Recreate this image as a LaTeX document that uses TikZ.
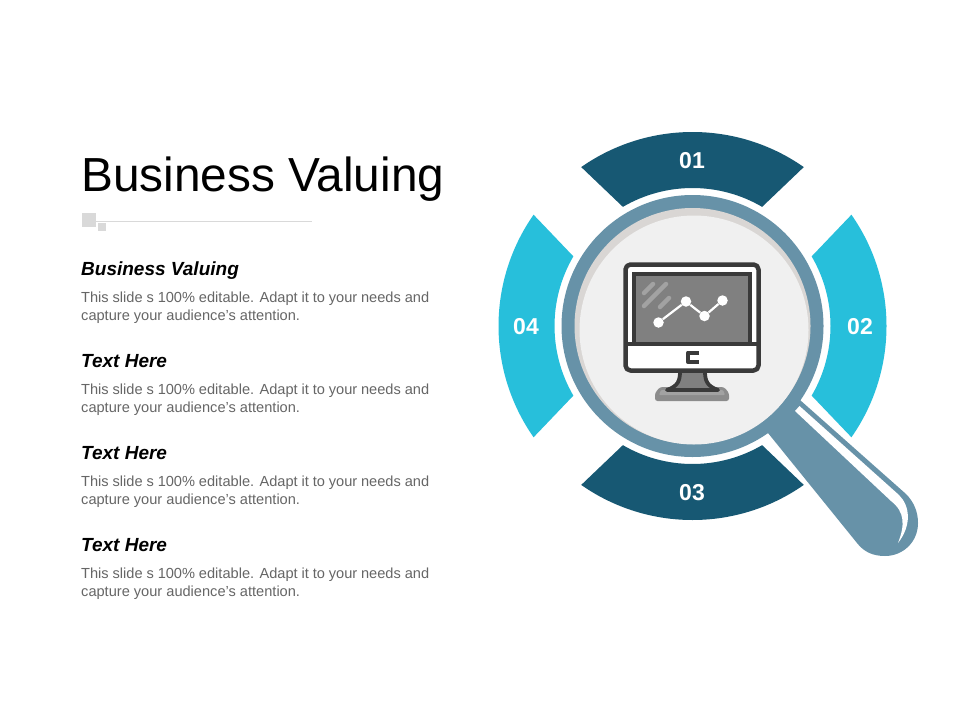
\documentclass[tikz,border=0pt]{standalone}
\usepackage{fontspec}
\setmainfont{Liberation Sans}
\definecolor{dteal}{HTML}{175873}
\definecolor{cyanseg}{HTML}{27BFDB}
\definecolor{ringc}{HTML}{6792A8}
\definecolor{cresc}{HTML}{D9D6D4}
\definecolor{lens}{HTML}{F0F0F0}
\definecolor{mondark}{HTML}{3A3A3A}
\definecolor{mongray}{HTML}{808080}
\definecolor{glare}{HTML}{A2A2A2}
\definecolor{basegray}{HTML}{8C8C8C}
\definecolor{bodytxt}{HTML}{666666}
\definecolor{deco}{HTML}{D9D9D9}
\newcommand{\bodylines}{\makebox[348pt][s]{This slide s 100\% editable. Adapt it to your needs and}}
\newcommand{\seg}[2]{\fill[#1,rotate=#2] (55:194) arc[start angle=55,end angle=125,radius=194pt] -- (120.3:138) arc[start angle=120.3,end angle=59.7,radius=138pt] -- cycle;}
\tikzset{
  titletxt/.style={anchor=base west,inner sep=0pt,font=\fontsize{47.8}{50}\selectfont,text=black},
  headtxt/.style={anchor=base west,inner sep=0pt,font=\fontsize{19}{21}\selectfont\bfseries\itshape,text=black},
  bodytext/.style={anchor=base west,inner sep=0pt,font=\fontsize{14.6}{18}\selectfont,text=bodytxt},
  numtxt/.style={anchor=center,inner sep=0pt,font=\fontsize{23}{25}\selectfont\bfseries,text=white},
  monline/.style={draw=mondark,line width=4.5pt,line join=round},
  glareline/.style={draw=glare,line width=4.5pt,line cap=round},
  dotc/.style={circle,fill=white,inner sep=0pt,minimum size=10.5pt}
}
\begin{document}
\begin{tikzpicture}[x=1pt,y=1pt,yscale=-1]
\useasboundingbox (0,0) rectangle (960,720);
\fill[white] (0,0) rectangle (960,720);
% left column
\node[titletxt] (title) at (81,191) {Business Valuing};
\fill[deco] (82,213) rectangle (96,227);
\fill[deco] (98,223) rectangle (106,231);
\draw[deco,line width=0.8pt] (96,221.5) -- (312,221.5);
\foreach \n/\t/\y in {a/Business Valuing/275,b/Text Here/367,c/Text Here/459,d/Text Here/551}{
  \node[headtxt] (head\n) at (81,\y) {\t};
  \node[bodytext] (bodya\n) at (81,\y+27) {\bodylines};
  \node[bodytext] (bodyb\n) at (81,\y+45) {capture your audience’s attention.};
}
% segments
\begin{scope}[shift={(692.5,326)},yscale=-1]
  \seg{dteal}{0}
  \seg{cyanseg}{90}
  \seg{dteal}{180}
  \seg{cyanseg}{270}
\end{scope}
\node[numtxt] (n1) at (692,161) {01};
\node[numtxt] (n2) at (860,327) {02};
\node[numtxt] (n3) at (692,493) {03};
\node[numtxt] (n4) at (526,327) {04};
% magnifier handle
\fill[ringc] (790,392) -- (800,400) -- (906,494) .. controls (914,502) and (918,512) .. (918,523)
  .. controls (918,542) and (903,556) .. (885,556) .. controls (873,556) and (864,552) .. (857,543)
  -- (768,433) -- (760,420) -- cycle;
\fill[white] (795,411) -- (799.5,406) -- (899,495) .. controls (910,506) and (912,525) .. (898,543)
  .. controls (905,525) and (905,512) .. (891,501) -- cycle;
% ring and lens
\fill[ringc] (692.5,326) circle[radius=131pt];
\fill[cresc] (692.5,326) circle[radius=118pt];
\fill[lens] (694,330) circle[radius=114.5pt];
% monitor stand and base
\fill[basegray,rounded corners=2.5pt] (660,387) -- (724,387) -- (729,393) -- (729,401) -- (655,401) -- (655,393) -- cycle;
\fill[glare,rounded corners=1pt] (661,390) -- (723,390) -- (725,395) -- (659,395) -- cycle;
\fill[mongray] (680,370) .. controls (680,380) and (678,386) .. (667,390) -- (718,390) .. controls (707,386) and (705,380) .. (705,370) -- cycle;
\draw[mondark,line width=3.8pt,line join=round,line cap=round] (680,371) .. controls (680,381) and (678,386) .. (667,390) -- (718,390) .. controls (707,386) and (705,381) .. (705,371);
% monitor
\draw[monline,fill=white,rounded corners=5pt] (625.5,264.5) rectangle (758.5,370.5);
\draw[draw=mondark,line width=4pt,fill=mongray,line join=miter] (634,274) rectangle (750,344);
\draw[mondark,line width=4.5pt] (625.5,344) -- (758.5,344);
\draw[mondark,line width=4.5pt,line join=round] (699,352.8) -- (688,352.8) -- (688,361.8) -- (699,361.8);
\draw[glareline] (644,293) -- (653,284);
\draw[glareline] (644,306) -- (666,284);
\draw[glareline] (660,307) -- (669,298);
\node[dotc] (p1) at (658.5,322.5) {};
\node[dotc] (p2) at (686,301.5) {};
\node[dotc] (p3) at (704.5,316) {};
\node[dotc] (p4) at (722.5,300.5) {};
\draw[white,line width=2.2pt] (p1) -- (p2) -- (p3) -- (p4);
\end{tikzpicture}
\end{document}
